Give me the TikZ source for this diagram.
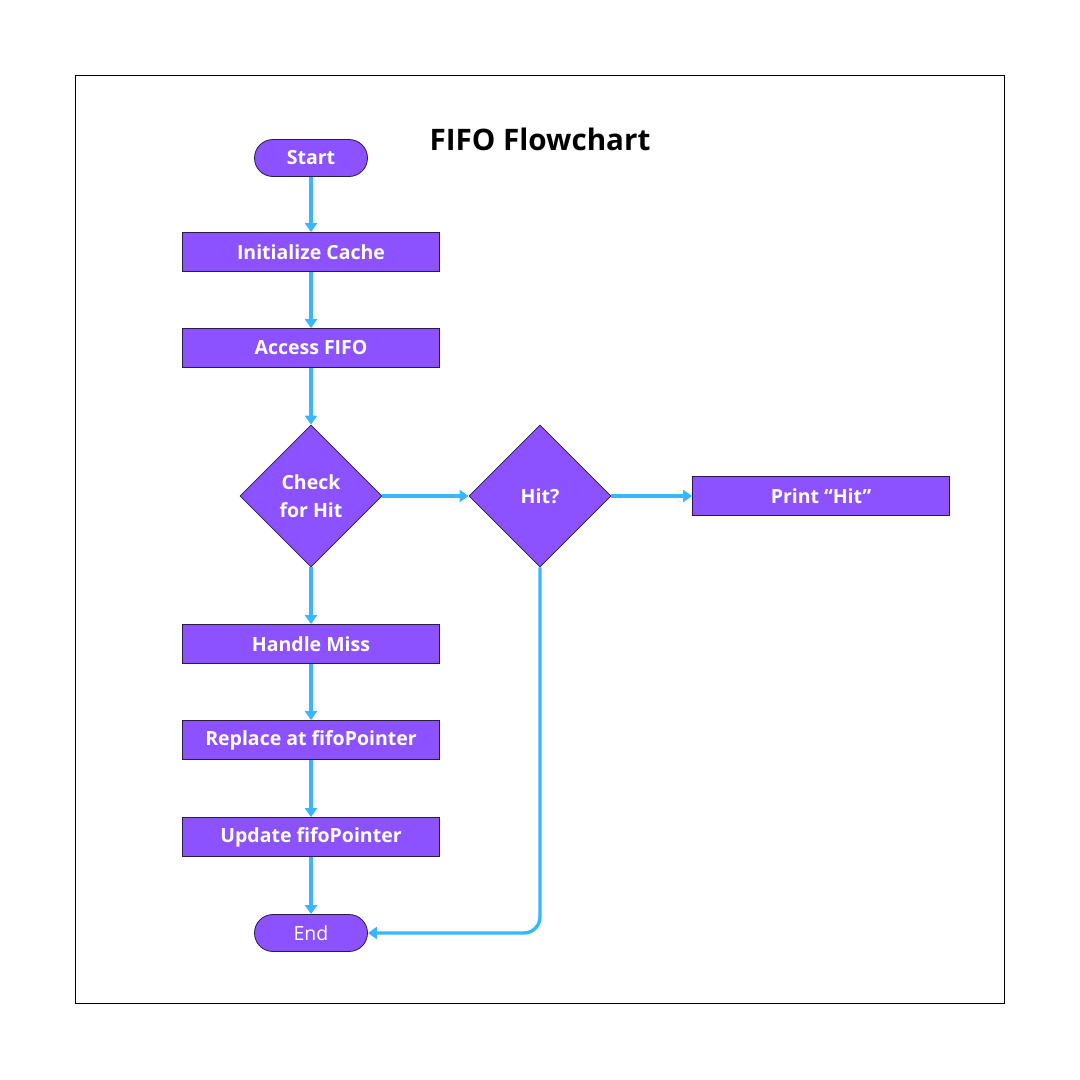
\documentclass[tikz,border=0pt]{standalone}
\usepackage{fontspec}
\setmainfont{Open Sans}
\usetikzlibrary{arrows.meta,shapes.geometric}
\definecolor{boxfill}{HTML}{8C52FF}
\definecolor{boxline}{HTML}{2A1A4A}
\definecolor{arrowc}{HTML}{38B6FF}
\tikzset{
  procbox/.style={draw=boxline, line width=0.8pt, fill=boxfill, minimum width=257pt, minimum height=39pt, inner sep=0pt, text=white, font=\fontsize{19.5}{23}\selectfont\bfseries},
  termbox/.style={draw=boxline, line width=0.8pt, fill=boxfill, rounded corners=18.5pt, minimum width=113pt, minimum height=37pt, inner sep=0pt, text=white, font=\fontsize{19.5}{23}\selectfont\bfseries},
  decbox/.style={draw=boxline, line width=0.8pt, fill=boxfill, diamond, minimum width=142pt, minimum height=142pt, inner sep=0pt, text=white, align=center, font=\fontsize{19.5}{28}\selectfont\bfseries},
  flow/.style={draw=arrowc, line width=3.4pt, -{Triangle[width=12pt,length=9pt]}},
}
\begin{document}
\begin{tikzpicture}[x=1pt,y=-1pt]
\useasboundingbox (0,0) rectangle (1080,1080);
\node[draw=black, line width=0.9pt, minimum width=929pt, minimum height=928pt, inner sep=0pt] (frame) at (539.5,539) {};
\node[font=\fontsize{29.6}{34}\selectfont\bfseries] (title) at (540,139) {FIFO Flowchart};
\node[termbox] (start) at (311,158) {Start};
\node[procbox] (init) at (311,252) {Initialize Cache};
\node[procbox] (access) at (311,348) {Access FIFO};
\node[decbox] (check) at (311,496) {Check\\for Hit};
\node[decbox] (hit) at (540,496) {Hit?};
\node[procbox] (print) at (821,496) {Print “Hit”};
\node[procbox] (miss) at (311,644) {Handle Miss};
\node[procbox] (replace) at (311,740) {Replace at fifoPointer};
\node[procbox] (update) at (311,837) {Update fifoPointer};
\node[termbox, font=\fontsize{19.5}{23}\selectfont] (end) at (311,933) {End};
\draw[flow] (start) -- (init);
\draw[flow] (init) -- (access);
\draw[flow] (access) -- (check);
\draw[flow] (check) -- (hit);
\draw[flow] (hit) -- (print);
\draw[flow] (check) -- (miss);
\draw[flow] (miss) -- (replace);
\draw[flow] (replace) -- (update);
\draw[flow] (update) -- (end);
\draw[flow, rounded corners=16pt] (hit.south) |- (end.east);
\end{tikzpicture}
\end{document}
